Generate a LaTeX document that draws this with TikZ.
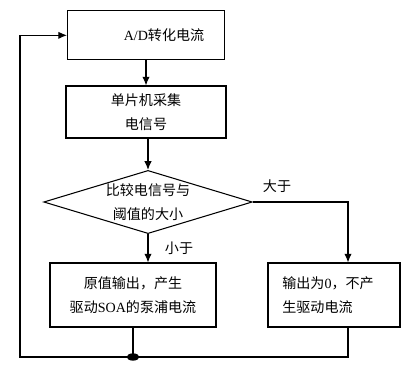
\documentclass[tikz,border=0pt]{standalone}
\usepackage{fontspec}
\setmainfont{Liberation Serif}
\newfontfamily\cjk{Noto Sans CJK SC}
\usepackage{tikz}
\usetikzlibrary{shapes.geometric,arrows.meta}

\begin{document}
\begin{tikzpicture}[font=\cjk\fontsize{12}{21}\selectfont,
    >={Latex[length=2.6mm,width=2.2mm]},x=1cm,y=1cm]
    \tikzset{
        stepbox/.style={draw,line width=0.9pt,align=center,inner sep=3pt},
        testbox/.style={draw,diamond,line width=0.9pt,align=center,
            inner sep=0pt,aspect=3.3,minimum width=6.09cm,minimum height=1.83cm},
        flow/.style={->,line width=0.9pt},
        wire/.style={line width=0.9pt}
    }
    \useasboundingbox (0,0) rectangle (12.45,11.25);

    \node[stepbox,minimum height=1.47cm,text width=4.5cm] (adc) at (4.38,10.19)
        {\hspace*{1.08cm}\textrm{A/D}转化电流};
    \node[stepbox,minimum width=4.8cm,minimum height=1.56cm] (mcu) at (4.38,7.89)
        {单片机采集\\电信号};
    \node[testbox] (cmp) at (4.44,5.19)
        {比较电信号与\\阈值的大小};
    \node[stepbox,minimum width=4.98cm,minimum height=1.92cm] (pass) at (3.99,2.40)
        {原值输出，产生\\驱动\textrm{SOA}的泵浦电流};
    \node[stepbox,minimum width=3.96cm,minimum height=1.92cm,
        text width=3.1cm,align=left] (zero) at (10.02,2.40)
        {输出为\textrm{0}，不产\\生驱动电流};

    \node (gt) at (8.31,5.67) {大于};
    \node (lt) at (5.37,3.81) {小于};

    \coordinate (zin) at ([xshift=0.42cm]zero.north);
    \coordinate (zout) at ([xshift=0.42cm]zero.south);
    \coordinate (bl) at (0.60,0.54);

    \draw[flow] (adc) -- (mcu);
    \draw[flow] (cmp.north |- mcu.south) -- (cmp.north);
    \draw[flow] (cmp.south) -- (cmp.south |- pass.north);
    \draw[flow] (cmp.east) -| (zin);

    % feedback loop back to the converter
    \draw[wire] (pass.south) -- (pass.south |- bl);
    \draw[flow] (zout) |- (bl) |- (adc.west);
    \fill (pass.south |- bl) ellipse (0.19cm and 0.11cm);
\end{tikzpicture}
\end{document}
